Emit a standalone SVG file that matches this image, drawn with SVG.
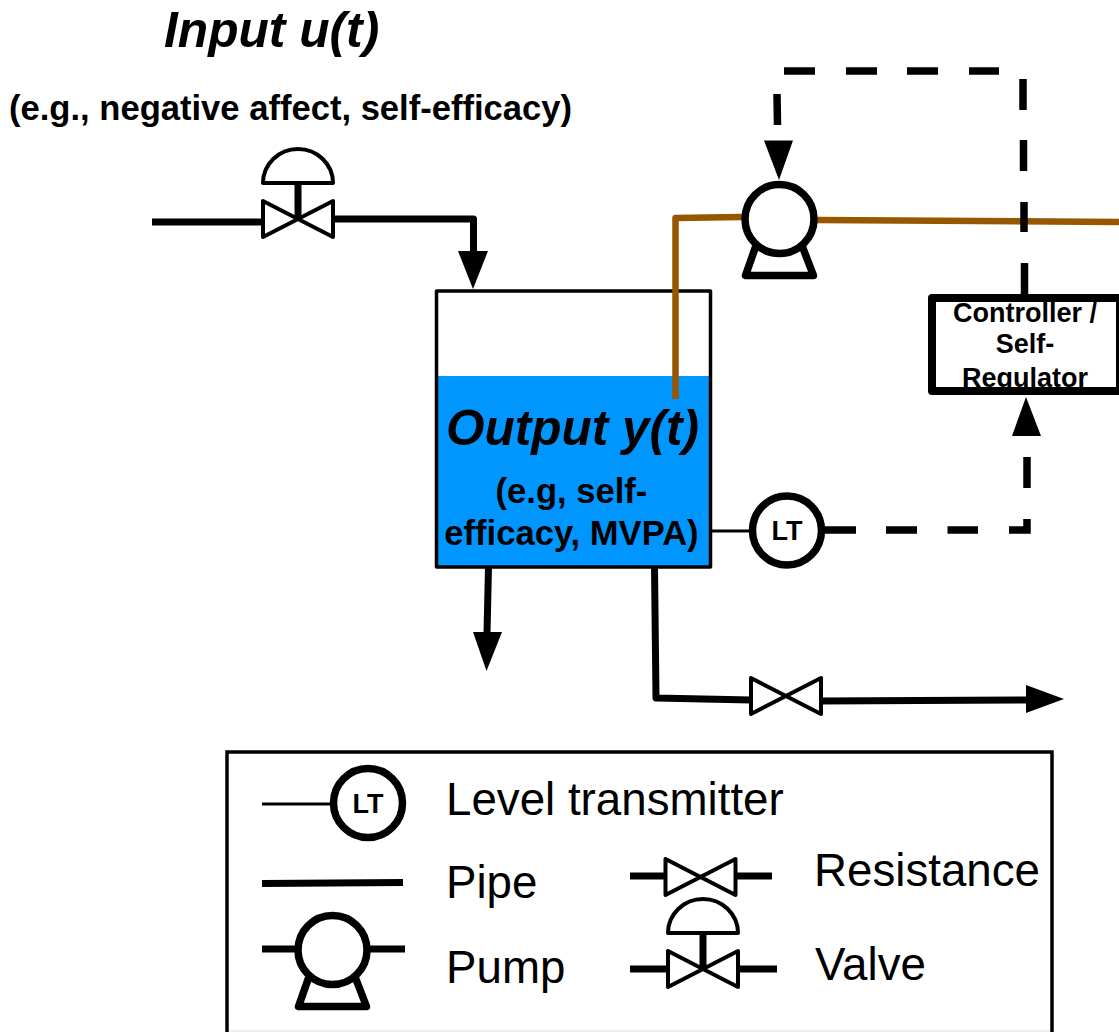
<svg xmlns="http://www.w3.org/2000/svg" width="1119" height="1032" viewBox="0 0 1119 1032">
<defs>
<style>
text{font-family:"Liberation Sans",Arial,sans-serif;fill:#000}
.b{font-weight:700}
.bi{font-weight:700;font-style:italic}
.c{text-anchor:middle}
.pipe{fill:none;stroke:#000;stroke-width:7;stroke-linejoin:round}
.brown{fill:none;stroke:#975600;stroke-width:6.5;stroke-linejoin:round}
.dash{fill:none;stroke:#000;stroke-width:7.5}
.ring{fill:#fff;stroke:#000;stroke-width:7.5}
.thin{fill:none;stroke:#000;stroke-width:3}
.tri{fill:#fff;stroke:#000;stroke-width:4;stroke-linejoin:round}
.base{fill:#fff;stroke:#000;stroke-width:7.5;stroke-linejoin:round}
.lg{font-size:45.7px}
.lt{font-size:27px;font-weight:700;text-anchor:middle}
</style>
<g id="valve-sym">
<path class="tri" d="M-35-18V18L35-18V18Z"/>
<path d="M0 0V-36" stroke="#000" stroke-width="7" fill="none"/>
<path class="tri" d="M-35-36A35 34 0 0 1 35-36Z"/>
</g>
<g id="res-sym"><path class="tri" d="M-35-18V18L35-18V18Z"/></g>
<g id="pump-sym">
<path class="base" d="M-24 28L-34 56.500H34L23 28"/>
<circle class="ring" r="34.500"/>
</g>
<g id="lt-sym"><circle class="ring" r="34.500"/></g>
</defs>
<rect width="1119" height="1032" fill="#fff"/>
<g id="tank">
<rect x="435" y="376" width="276" height="191" fill="#0096ff"/>
<rect x="436.500" y="291" width="274" height="276" fill="none" stroke="#000" stroke-width="3.500" stroke-linejoin="round"/>
</g>
<g id="connectors">
<path class="pipe" d="M152 222H263M333 219H473.500V252"/>
<path d="M458 251H488L473 289Z"/>
<path class="brown" d="M675.500 399V218L742 217M817 220L1119 222"/>
<path class="dash" d="M784 71H815M846 71H877M907 71H938M969 71H999M1023 79V110M1023.500 140V171M1024 202V232M1024.500 263V294M777 94L777.500 125"/>
<path d="M764 140.500H793L779 180Z"/>
<path class="thin" d="M711 531H750"/>
<path class="dash" d="M824 530H856M886 530H917M947.500 530H978M1009 530H1027V519M1027 488V457"/>
<path d="M1012 436H1041L1026 397Z"/>
<path class="pipe" d="M488.500 567L487 633"/>
<path d="M473 632H502L486.500 671Z"/>
<path class="pipe" d="M654.500 567L656 698L751 700M821 701L1027 700"/>
<path d="M1026 685L1064 699L1026 713Z"/>
</g>
<g id="input-valve"><use href="#valve-sym" x="298" y="219"/></g>
<g id="pump"><use href="#pump-sym" x="779.500" y="219"/></g>
<g id="resistance"><use href="#res-sym" x="786" y="696"/></g>
<g id="level-transmitter"><use href="#lt-sym" x="787" y="530.500"/><text class="lt" x="787" y="540">LT</text></g>
<g id="controller">
<text class="b c" font-size="27" x="1025" y="322">Controller /</text>
<text class="b c" font-size="27" x="1025" y="353">Self-</text>
<text class="b c" font-size="27" x="1025" y="387">Regulator</text>
<rect x="932" y="298" width="188" height="93" fill="none" stroke="#000" stroke-width="8" stroke-linejoin="round"/>
</g>
<g id="labels">
<text class="bi" font-size="49.700" x="164" y="47">Input u(t)</text>
<text class="b" font-size="34.600" x="9" y="120">(e.g., negative affect, self-efficacy)</text>
<text class="bi c" font-size="49.500" x="572.500" y="445">Output y(t)</text>
<text class="b c" font-size="34.600" x="571.500" y="503">(e.g, self-</text>
<text class="b c" font-size="34.600" x="571.500" y="545">efficacy, MVPA)</text>
</g>
<g id="legend">
<path d="M229 1031H1050" stroke="#e8e8e8" stroke-width="1.500" fill="none"/>
<rect x="227" y="752" width="825" height="300" fill="none" stroke="#000" stroke-width="3.500"/>
<path class="thin" d="M262 804H332"/>
<use href="#lt-sym" x="368" y="803"/>
<text class="lt" x="368" y="813">LT</text>
<text class="lg" x="446" y="815">Level transmitter</text>
<path class="pipe" d="M262 883.500L403 882.500" stroke-width="8"/>
<text class="lg" x="446" y="898">Pipe</text>
<path class="pipe" d="M262 949H295M370 949H405"/>
<use href="#pump-sym" x="332.500" y="950"/>
<text class="lg" x="446" y="983">Pump</text>
<path class="pipe" d="M630 876H665M737 876H772"/>
<use href="#res-sym" x="700.500" y="877"/>
<text class="lg" x="814" y="886">Resistance</text>
<path class="pipe" d="M630 969H667M739 969H777"/>
<use href="#valve-sym" x="703" y="969"/>
<text class="lg" x="815" y="980">Valve</text>
</g>
</svg>
